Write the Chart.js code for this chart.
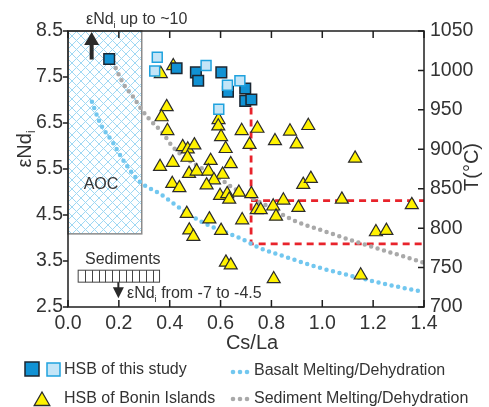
<!DOCTYPE html>
<html>
<head>
<meta charset="utf-8">
<script src="https://cdn.jsdelivr.net/npm/chart.js@4.4.1/dist/chart.umd.min.js"></script>
<style>
  html, body { margin: 0; padding: 0; background: #fff; }
  #cadre { position: relative; width: 489px; height: 407px; }
</style>
</head>
<body>
<div id="cadre"><canvas id="graphique" width="489" height="407"></canvas></div>
<script>
// ==========================================================
// DONNEES
// ==========================================================
const xTicks = [0.0, 0.2, 0.4, 0.6, 0.8, 1.0, 1.2, 1.4];
const ndTicks = [2.5, 3.5, 4.5, 5.5, 6.5, 7.5, 8.5];
const tTicks = [700, 750, 800, 850, 900, 950, 1000, 1050];

// HSB de cette étude (carrés foncés)
const hsbFonceX = [0.162, 0.427, 0.503, 0.512, 0.603, 0.629, 0.697, 0.697, 0.721];
const hsbFonceY = [7.89, 7.69, 7.60, 7.42, 7.60, 7.18, 7.25, 6.98, 7.01];
// HSB de cette étude (carrés clairs)
const hsbClairX = [0.351, 0.341, 0.543, 0.627, 0.676, 0.593];
const hsbClairY = [7.93, 7.63, 7.75, 7.32, 7.42, 6.80];

// HSB des îles Bonin (triangles)
const boninX = [0.414, 0.365, 0.388, 0.368, 0.391, 0.592, 0.591, 0.602, 0.620, 0.683,
                0.745, 0.714, 0.451, 0.471, 0.497, 0.470, 0.362, 0.412, 0.476, 0.506,
                0.561, 0.552, 0.608, 0.640, 0.574, 0.545, 0.410, 0.438, 0.598, 0.626,
                0.634, 0.672, 0.721, 0.742, 0.758, 0.467, 0.556, 0.685, 0.477, 0.493,
                0.602, 0.621, 0.640, 0.814, 0.873, 0.899, 0.945, 1.129, 0.925, 0.955,
                1.077, 1.352, 0.847, 0.807, 0.818, 0.906, 1.211, 1.252, 0.809, 1.151];
const boninY = [7.74, 7.57, 6.85, 6.63, 6.33, 6.57, 6.43, 6.20, 5.94, 6.33,
                6.38, 6.03, 5.98, 5.93, 6.02, 5.75, 5.55, 5.64, 5.40, 5.45,
                5.68, 5.45, 5.38, 5.61, 5.26, 5.15, 5.18, 5.09, 4.92, 4.96,
                4.84, 4.99, 4.96, 4.61, 4.61, 4.53, 4.41, 4.39, 4.17, 4.03,
                4.16, 3.47, 3.41, 6.11, 6.32, 6.04, 6.44, 5.73, 5.16, 5.29,
                4.84, 4.72, 4.82, 4.69, 4.47, 4.66, 4.13, 4.16, 3.11, 3.19];

// Courbe fusion/déshydratation basalte
const basalteX = [0.094, 0.126, 0.177, 0.224, 0.283, 0.362, 0.440, 0.519, 0.598, 0.676, 0.747, 0.845, 0.979, 1.148, 1.306, 1.400];
const basalteY = [6.96, 6.50, 6.07, 5.63, 5.22, 4.96, 4.65, 4.37, 4.17, 4.00, 3.80, 3.61, 3.37, 3.13, 2.93, 2.83];

// Courbe fusion/déshydratation sédiments
const sedimentX = [0.177, 0.216, 0.256, 0.291, 0.322, 0.370, 0.409, 0.452, 0.519, 0.586, 0.649, 0.716, 0.783, 0.885, 1.018, 1.148, 1.278, 1.400];
const sedimentY = [7.83, 7.37, 7.07, 6.78, 6.57, 6.30, 6.00, 5.78, 5.54, 5.33, 5.09, 4.89, 4.70, 4.39, 4.13, 3.89, 3.67, 3.46];

// Cadre rouge (axe des températures)
const rougeAX = [0.72, 0.72, 1.4];
const rougeAT = [953, 780, 780];
const rougeBX = [0.72, 1.4];
const rougeBT = [835, 835];

// Zones annotées
const zoneAOC = { x0: 0, x1: 0.29, y0: 4.09, y1: 8.5 };
const zoneSed = { x0: 0.04, x1: 0.36, y0: 3.04, y1: 3.30, cases: 12 };
const flecheHaut = { x: 0.093, y0: 7.88, y1: 8.5 };
const flecheBas = { x: 0.198, y0: 3.04, y1: 2.69 };

// ==========================================================
// STYLE
// ==========================================================
const police = '"Liberation Sans", Arial, Helvetica, sans-serif';
const gris = '#333333';
const bleuFonce = '#1192d4';
const bleuClair = '#c4e5f7';
const bordClair = '#1fa2de';
const jaune = '#fff200';
const bleuPoint = '#72c7ef';
const grisPoint = '#a9a9a9';
const rouge = '#e8232b';

function paires(xs, ys) { return xs.map((v, i) => ({ x: v, y: ys[i] })); }

function largeurRiche(ctx, parties, taille) {
  let w = 0;
  parties.forEach(p => {
    ctx.font = (p.sub ? taille * 0.6 : taille) + 'px ' + police;
    w += ctx.measureText(p.t).width;
  });
  return w;
}
function texteRiche(ctx, parties, x, y, taille) {
  ctx.textBaseline = 'middle';
  ctx.textAlign = 'left';
  parties.forEach(p => {
    const t = p.sub ? taille * 0.6 : taille;
    ctx.font = t + 'px ' + police;
    ctx.fillText(p.t, x, p.sub ? y + taille * 0.32 : y);
    x += ctx.measureText(p.t).width;
  });
  return x;
}

function motifHachure(ctx) {
  const c = document.createElement('canvas');
  c.width = 9; c.height = 9;
  const g = c.getContext('2d');
  g.strokeStyle = '#9fd8f3';
  g.lineWidth = 1;
  g.beginPath();
  g.moveTo(-1, -1); g.lineTo(10, 10);
  g.moveTo(10, -1); g.lineTo(-1, 10);
  g.stroke();
  return ctx.createPattern(c, 'repeat');
}

function triangle(ctx, cx, cy, r) {
  ctx.beginPath();
  for (let k = 0; k < 3; k++) {
    const a = k * 2 * Math.PI / 3;
    const px = cx + Math.sin(a) * r, py = cy - Math.cos(a) * r;
    if (k === 0) ctx.moveTo(px, py); else ctx.lineTo(px, py);
  }
  ctx.closePath();
}

// ==========================================================
// PLUGIN DE DECOR (zones, flèches, cadre, titres, légende)
// ==========================================================
const pluginDecor = {
  id: 'decor',
  beforeDatasetsDraw(chart) {
    const { ctx, scales: { x, y } } = chart;
    ctx.save();

    // Zone AOC hachurée
    const ax0 = x.getPixelForValue(zoneAOC.x0), ax1 = x.getPixelForValue(zoneAOC.x1);
    const ay0 = y.getPixelForValue(zoneAOC.y0), ay1 = y.getPixelForValue(zoneAOC.y1);
    ctx.fillStyle = motifHachure(ctx);
    ctx.fillRect(ax0, ay1, ax1 - ax0, ay0 - ay1);
    ctx.strokeStyle = '#8a8a8a';
    ctx.lineWidth = 1.5;
    ctx.strokeRect(ax0, ay1, ax1 - ax0, ay0 - ay1);

    ctx.fillStyle = gris;
    ctx.font = '16px ' + police;
    ctx.textAlign = 'center';
    ctx.textBaseline = 'middle';
    ctx.fillText('AOC', 101, 185);

    // Flèche vers le haut
    const fx = x.getPixelForValue(flecheHaut.x);
    const fy0 = y.getPixelForValue(flecheHaut.y0), fy1 = y.getPixelForValue(flecheHaut.y1);
    ctx.strokeStyle = '#2a2a2a';
    ctx.fillStyle = '#2a2a2a';
    ctx.lineWidth = 4;
    ctx.beginPath(); ctx.moveTo(fx, fy0); ctx.lineTo(fx, fy1 + 12); ctx.stroke();
    ctx.beginPath(); ctx.moveTo(fx - 7.5, fy1 + 14); ctx.lineTo(fx + 7.5, fy1 + 14); ctx.lineTo(fx, fy1 + 1); ctx.closePath(); ctx.fill();

    // Sédiments : boîte à barres verticales
    const sx0 = x.getPixelForValue(zoneSed.x0), sx1 = x.getPixelForValue(zoneSed.x1);
    const sy0 = y.getPixelForValue(zoneSed.y0), sy1 = y.getPixelForValue(zoneSed.y1);
    ctx.strokeStyle = '#444';
    ctx.lineWidth = 1;
    ctx.strokeRect(sx0, sy1, sx1 - sx0, sy0 - sy1);
    ctx.beginPath();
    for (let k = 1; k < zoneSed.cases; k++) {
      const px = Math.round(sx0 + (sx1 - sx0) * k / zoneSed.cases) + 0.5;
      ctx.moveTo(px, sy1); ctx.lineTo(px, sy0);
    }
    ctx.stroke();
    ctx.fillStyle = gris;
    ctx.font = '16px ' + police;
    ctx.textAlign = 'left';
    ctx.fillText('Sediments', 85, 260);

    // Flèche vers le bas
    const bx = x.getPixelForValue(flecheBas.x);
    const by0 = y.getPixelForValue(flecheBas.y0), by1 = y.getPixelForValue(flecheBas.y1);
    ctx.strokeStyle = '#2a2a2a';
    ctx.fillStyle = '#2a2a2a';
    ctx.lineWidth = 2;
    ctx.beginPath(); ctx.moveTo(bx, by0); ctx.lineTo(bx, by1 - 8); ctx.stroke();
    ctx.beginPath(); ctx.moveTo(bx - 5.5, by1 - 11); ctx.lineTo(bx + 5.5, by1 - 11); ctx.lineTo(bx, by1); ctx.closePath(); ctx.fill();

    ctx.fillStyle = gris;
    texteRiche(ctx, [{ t: 'εNd' }, { t: 'i', sub: true }, { t: ' from -7 to -4.5' }], 127, 294, 16);
    ctx.restore();
  },

  afterDatasetsDraw(chart) {
    const { ctx, chartArea: ca, scales: { x, y, yT } } = chart;
    ctx.save();
    ctx.strokeStyle = '#1e1e1e';
    ctx.lineWidth = 1.5;
    ctx.strokeRect(ca.left, ca.top, ca.right - ca.left, ca.bottom - ca.top);
    ctx.beginPath();
    xTicks.forEach(v => {
      const p = x.getPixelForValue(v);
      ctx.moveTo(p, ca.bottom); ctx.lineTo(p, ca.bottom - 7);
      ctx.moveTo(p, ca.top); ctx.lineTo(p, ca.top + 7);
    });
    ndTicks.forEach(v => {
      const p = y.getPixelForValue(v);
      ctx.moveTo(ca.left, p); ctx.lineTo(ca.left - 5, p);
    });
    tTicks.forEach(v => {
      const p = yT.getPixelForValue(v);
      ctx.moveTo(ca.right, p); ctx.lineTo(ca.right - 6, p);
    });
    ctx.stroke();
    ctx.restore();
  },

  afterDraw(chart) {
    const { ctx } = chart;
    ctx.save();
    ctx.fillStyle = gris;

    // Texte au-dessus du graphique
    texteRiche(ctx, [{ t: 'εNd' }, { t: 'i', sub: true }, { t: ' up to ~10' }], 86, 20, 16);

    // Titre axe X
    ctx.font = '20px ' + police;
    ctx.textAlign = 'center';
    ctx.textBaseline = 'middle';
    ctx.fillText('Cs/La', 252, 343);

    // Titre axe gauche
    const partiesNd = [{ t: 'εNd' }, { t: 'i', sub: true }];
    const wNd = largeurRiche(ctx, partiesNd, 20);
    ctx.save();
    ctx.translate(25, 149);
    ctx.rotate(-Math.PI / 2);
    texteRiche(ctx, partiesNd, -wNd / 2, 0, 20);
    ctx.restore();

    // Titre axe droit
    ctx.save();
    ctx.translate(472, 167);
    ctx.rotate(-Math.PI / 2);
    ctx.font = '20px ' + police;
    ctx.textAlign = 'center';
    ctx.textBaseline = 'middle';
    ctx.fillText('T(°C)', 0, 0);
    ctx.restore();

    // Légende
    ctx.lineWidth = 1.5;
    ctx.fillStyle = bleuFonce; ctx.strokeStyle = '#1b2631';
    ctx.fillRect(25, 362, 14, 14); ctx.strokeRect(25, 362, 14, 14);
    ctx.fillStyle = bleuClair; ctx.strokeStyle = bordClair;
    ctx.fillRect(47, 363, 13, 13); ctx.strokeRect(47, 363, 13, 13);

    triangle(ctx, 42, 401, 9);
    ctx.fillStyle = jaune; ctx.strokeStyle = '#2b2b2b'; ctx.lineWidth = 1.3;
    ctx.fill(); ctx.stroke();

    [233, 240, 247].forEach(px => {
      ctx.fillStyle = bleuPoint;
      ctx.beginPath(); ctx.arc(px, 372, 2.3, 0, 2 * Math.PI); ctx.fill();
      ctx.fillStyle = grisPoint;
      ctx.beginPath(); ctx.arc(px, 399, 2.3, 0, 2 * Math.PI); ctx.fill();
    });

    ctx.fillStyle = gris;
    ctx.font = '16px ' + police;
    ctx.textAlign = 'left';
    ctx.textBaseline = 'middle';
    ctx.fillText('HSB of this study', 64, 370);
    ctx.fillText('HSB of Bonin Islands', 64, 399);
    ctx.fillText('Basalt Melting/Dehydration', 254, 371);
    ctx.fillText('Sediment Melting/Dehydration', 254, 399);
    ctx.restore();
  }
};

// ==========================================================
// GRAPHIQUE
// ==========================================================
const policeTicks = { family: police, size: 19.5 };

new Chart(document.getElementById('graphique').getContext('2d'), {
  type: 'scatter',
  data: {
    datasets: [
      {
        label: 'HSB of this study (clair)',
        data: paires(hsbClairX, hsbClairY),
        pointStyle: 'rect', pointRadius: 7, pointHoverRadius: 7,
        backgroundColor: bleuClair, borderColor: bordClair, borderWidth: 1.5
      },
      {
        label: 'HSB of this study',
        data: paires(hsbFonceX, hsbFonceY),
        pointStyle: 'rect', pointRadius: 7.5, pointHoverRadius: 7.5,
        backgroundColor: bleuFonce, borderColor: '#1b2631', borderWidth: 1.5
      },
      {
        label: 'HSB of Bonin Islands',
        data: paires(boninX, boninY),
        pointStyle: 'triangle', pointRadius: 7.5, pointHoverRadius: 7.5,
        backgroundColor: jaune, borderColor: '#2b2b2b', borderWidth: 1.2
      },
      {
        label: 'Basalt Melting/Dehydration',
        type: 'line',
        data: paires(basalteX, basalteY),
        showLine: true, pointRadius: 0, borderColor: bleuPoint, borderWidth: 4.5,
        borderDash: [0, 6.7], borderCapStyle: 'round', cubicInterpolationMode: 'monotone', fill: false
      },
      {
        label: 'Sediment Melting/Dehydration',
        type: 'line',
        data: paires(sedimentX, sedimentY),
        showLine: true, pointRadius: 0, borderColor: grisPoint, borderWidth: 4.5,
        borderDash: [0, 6.7], borderCapStyle: 'round', cubicInterpolationMode: 'monotone', fill: false
      },
      {
        label: 'cadre A',
        type: 'line', yAxisID: 'yT',
        data: paires(rougeAX, rougeAT),
        showLine: true, pointRadius: 0, borderColor: rouge, borderWidth: 2.8,
        borderDash: [7, 5], tension: 0, fill: false
      },
      {
        label: 'cadre B',
        type: 'line', yAxisID: 'yT',
        data: paires(rougeBX, rougeBT),
        showLine: true, pointRadius: 0, borderColor: rouge, borderWidth: 2.8,
        borderDash: [7, 5], tension: 0, fill: false
      }
    ]
  },
  options: {
    responsive: false,
    animation: false,
    devicePixelRatio: 1,
    layout: { padding: { top: 31, bottom: 52, left: 0, right: 0 } },
    plugins: { legend: { display: false }, tooltip: { enabled: false } },
    scales: {
      x: {
        type: 'linear', position: 'bottom', min: 0, max: 1.4,
        afterBuildTicks: s => { s.ticks = xTicks.map(v => ({ value: v })); },
        afterFit: s => { s.height = 48; },
        grid: { display: false, drawTicks: false },
        border: { display: false },
        ticks: { padding: 5, color: gris, font: policeTicks, maxRotation: 0, autoSkip: false,
                 callback: v => Number(v).toFixed(1) }
      },
      y: {
        type: 'linear', position: 'left', min: 2.5, max: 8.5,
        afterBuildTicks: s => { s.ticks = ndTicks.map(v => ({ value: v })); },
        afterFit: s => { s.width = 68; },
        grid: { display: false, drawTicks: false },
        border: { display: false },
        ticks: { padding: 5, color: gris, font: policeTicks, autoSkip: false,
                 callback: v => Number(v).toFixed(1) }
      },
      yT: {
        type: 'linear', position: 'right', min: 700, max: 1050,
        afterBuildTicks: s => { s.ticks = tTicks.map(v => ({ value: v })); },
        afterFit: s => { s.width = 65; },
        grid: { display: false, drawTicks: false },
        border: { display: false },
        ticks: { padding: 6, color: gris, font: policeTicks, autoSkip: false,
                 callback: v => String(v) }
      }
    }
  },
  plugins: [pluginDecor]
});
</script>
</body>
</html>
